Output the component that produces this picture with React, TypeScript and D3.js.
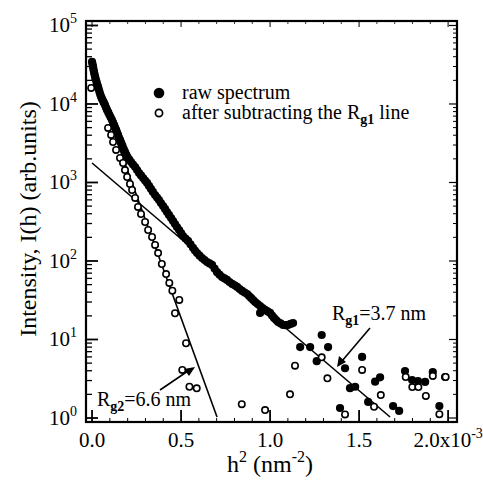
import React from 'react';
import * as d3 from 'd3';

const W = 483;
const H = 485;
const margin = { top: 21, right: 26, bottom: 63, left: 86 };

// h^2 in units of 1e-3 nm^-2, intensity in arb. units (read along the dense band, then the scatter)
const rawH2 = [
  0.0, 0.003, 0.006, 0.008, 0.011, 0.014, 0.017, 0.021, 0.025, 0.029, 0.034, 0.038,
  0.042, 0.046, 0.051, 0.056, 0.062, 0.067, 0.073, 0.078, 0.084, 0.091, 0.098, 0.105,
  0.112, 0.118, 0.124, 0.129, 0.135, 0.14, 0.146, 0.151, 0.157, 0.164, 0.171, 0.178,
  0.185, 0.192, 0.199, 0.209, 0.219, 0.23, 0.242, 0.253, 0.264, 0.275, 0.287, 0.298,
  0.309, 0.32, 0.331, 0.342, 0.354, 0.365, 0.376, 0.387, 0.399, 0.41, 0.421, 0.432,
  0.444, 0.455, 0.466, 0.477, 0.489, 0.5, 0.511, 0.525, 0.539, 0.553, 0.567, 0.578,
  0.59, 0.604, 0.618, 0.632, 0.646, 0.66, 0.674, 0.688, 0.702, 0.716, 0.73, 0.744,
  0.758, 0.772, 0.787, 0.801, 0.815, 0.829, 0.843, 0.857, 0.871, 0.882, 0.893, 0.905,
  0.916, 0.93, 0.944, 0.944, 0.958, 0.972, 0.986, 1.0, 1.011, 1.022, 1.034, 1.045,
  1.059, 1.073, 1.087, 1.101, 1.115, 1.129,
  1.169, 1.225, 1.29, 1.326, 1.262, 1.421, 1.517, 1.449, 1.478, 1.551, 1.59, 1.618,
  1.691, 1.725, 1.393, 1.758, 1.798, 1.831, 1.871, 1.914, 1.983, 1.951,
];
const rawI = [
  34300, 32000, 29600, 27500, 25600, 23800, 22100, 20600, 19100, 17700, 16500, 15300,
  14200, 13200, 12300, 11600, 10900, 10300, 9700, 9000, 8400, 7800, 7240, 6720,
  6250, 5800, 5400, 5020, 4670, 4340, 4030, 3740, 3480, 3190, 2920, 2670,
  2450, 2270, 2110, 1960, 1820, 1690, 1570, 1440, 1320, 1230, 1140, 1060,
  986, 903, 827, 757, 693, 644, 598, 548, 502, 460, 421, 386,
  353, 323, 296, 271, 248, 227, 208, 193, 180, 163, 147, 136,
  126, 117, 109, 103, 97, 93, 89, 80, 72, 67, 62.5, 60,
  57.3, 54, 51, 49, 46.7, 44, 41.5, 39.7, 38, 35.8, 33.8, 31.8,
  30, 28.3, 26.7, 21.8, 25.2, 23.8, 22.8, 21.8, 20.2, 18.8, 17.7, 16.7,
  16, 15.3, 15.2, 15.3, 15.8, 16.2,
  8.0, 8.0, 11.4, 8.0, 5.3, 4.3, 6.0, 2.4, 2.5, 1.6, 2.9, 3.3,
  1.42, 1.23, 1.34, 3.97, 3.05, 2.96, 2.88, 3.85, 3.33, 1.42,
];

const subH2 = [
  -0.005, 0.09, 0.107, 0.118, 0.135, 0.157, 0.174, 0.185, 0.197, 0.213, 0.225, 0.242,
  0.258, 0.275, 0.298, 0.315, 0.337, 0.354, 0.371, 0.392, 0.416, 0.434, 0.451, 0.49,
  0.466, 0.528, 0.507, 0.547, 0.588, 0.841, 0.972, 1.112, 1.14, 1.29, 1.322, 1.421,
  1.517, 1.584, 1.622, 1.762, 1.799, 1.833, 1.875, 1.914, 1.986, 1.951,
];
const subI = [
  16000, 4950, 4030, 3280, 2600, 2050, 1770, 1440, 1175, 957, 802, 635,
  488, 397, 314, 248, 202, 160, 126, 91.6, 68.2, 52.5, 41.9, 31.9,
  21.6, 8.95, 4.09, 2.5, 2.39, 1.5, 1.26, 2.0, 4.64, 5.93, 3.2, 1.11,
  4.09, 1.39, 1.96, 3.33, 2.48, 2.48, 1.91, 3.43, 3.33, 1.12,
];

// Guinier fit lines, endpoints [h2, I]
const rg1Line = [[0, 1770], [1.674, 1.03]];
const rg2Line = [[0, 25000], [0.702, 1.03]];

const xTicks = [0, 0.5, 1.0, 1.5, 2.0];
const xTickLabels = ['0.0', '0.5', '1.0', '1.5', '2.0'];
const yDecades = [0, 1, 2, 3, 4, 5];

const FONT = 'Liberation Serif, DejaVu Serif, serif';

export default function App() {
  const innerW = W - margin.left - margin.right;
  const innerH = H - margin.top - margin.bottom;

  const x = d3.scaleLinear().domain([-0.034, 2.05]).range([0, innerW]);
  const y = d3.scaleLog().domain([Math.pow(10, -0.051), Math.pow(10, 5.057)]).range([innerH, 0]);

  const line = d3.line<number[]>().x((d) => x(d[0])).y((d) => y(d[1]));

  const minorY: number[] = [];
  yDecades.slice(0, -1).forEach((e) => {
    for (let k = 2; k <= 9; k++) minorY.push(k * Math.pow(10, e));
  });
  const minorX = d3.range(0, 21).map((i) => i * 0.1).filter((v) => Math.abs(v * 2 - Math.round(v * 2)) > 1e-6);

  const txt = { fontFamily: FONT };

  return (
    <svg width={W} height={H} style={{ position: 'absolute', left: 0, top: 0, background: '#fff', fontFamily: FONT }}>
      <g transform={`translate(${margin.left},${margin.top})`}>
        {/* fit lines */}
        <path d={line(rg1Line) || ''} fill="none" stroke="#000" strokeWidth={1.6} />
        <path d={line(rg2Line) || ''} fill="none" stroke="#000" strokeWidth={1.6} />

        {/* raw spectrum */}
        {rawH2.map((v, i) => (
          <circle key={'r' + i} cx={x(v)} cy={y(rawI[i])} r={4.1} fill="#000" />
        ))}
        {/* after subtraction */}
        {subH2.map((v, i) => (
          <circle key={'s' + i} cx={x(v)} cy={y(subI[i])} r={3.2} fill="#fff" stroke="#000" strokeWidth={1.6} />
        ))}

        {/* y ticks */}
        {yDecades.map((e) => (
          <g key={'yt' + e}>
            <line x1={0} x2={12} y1={y(Math.pow(10, e))} y2={y(Math.pow(10, e))} stroke="#000" strokeWidth={1.8} />
            <line x1={innerW} x2={innerW - 8} y1={y(Math.pow(10, e))} y2={y(Math.pow(10, e))} stroke="#000" strokeWidth={1.2} />
            <text style={txt} x={-9} y={y(Math.pow(10, e)) + 7} textAnchor="end" fontSize={21}>
              10<tspan dy={-9} fontSize={14}>{e}</tspan>
            </text>
          </g>
        ))}
        {minorY.map((v, i) => (
          <g key={'ym' + i}>
            <line x1={0} x2={6} y1={y(v)} y2={y(v)} stroke="#000" strokeWidth={1.3} />
            <line x1={innerW} x2={innerW - 4} y1={y(v)} y2={y(v)} stroke="#000" strokeWidth={1} />
          </g>
        ))}

        {/* x ticks */}
        {xTicks.map((v, i) => (
          <g key={'xt' + i}>
            <line x1={x(v)} x2={x(v)} y1={innerH} y2={innerH - 12} stroke="#000" strokeWidth={1.8} />
            <line x1={x(v)} x2={x(v)} y1={0} y2={6} stroke="#000" strokeWidth={1} />
            <text style={txt} x={x(v)} y={innerH + 25} textAnchor="middle" fontSize={21}>
              {xTickLabels[i]}
              {i === xTicks.length - 1 ? (
                <>
                  x10<tspan dy={-9} fontSize={14}>-3</tspan>
                </>
              ) : null}
            </text>
          </g>
        ))}
        {minorX.map((v, i) => (
          <g key={'xm' + i}>
            <line x1={x(v)} x2={x(v)} y1={innerH} y2={innerH - 4} stroke="#000" strokeWidth={1} />
            <line x1={x(v)} x2={x(v)} y1={0} y2={3} stroke="#000" strokeWidth={0.8} />
          </g>
        ))}

        {/* frame */}
        <rect x={0} y={0} width={innerW} height={innerH} fill="none" stroke="#000" strokeWidth={2.2} />
      </g>

      {/* legend */}
      <circle cx={159} cy={93} r={5.3} fill="#000" />
      <text style={txt} x={182} y={99} fontSize={20}>raw spectrum</text>
      <circle cx={159} cy={113} r={3.6} fill="#fff" stroke="#000" strokeWidth={1.7} />
      <text style={txt} x={182} y={119} fontSize={20}>
        after subtracting the R<tspan dy={5} fontSize={14} fontWeight="bold">g1</tspan>
        <tspan dy={-5}> line</tspan>
      </text>

      {/* annotations */}
      <text style={txt} x={97} y={406} fontSize={20}>
        R<tspan dy={5} fontSize={14} fontWeight="bold">g2</tspan><tspan dy={-5}>=6.6 nm</tspan>
      </text>
      <line x1={160} y1={390} x2={188} y2={371} stroke="#000" strokeWidth={1.6} />
      <path d="M195,367 L184,369 L189,376 Z" fill="#000" />

      <text style={txt} x={332} y={320} fontSize={20}>
        R<tspan dy={5} fontSize={14} fontWeight="bold">g1</tspan><tspan dy={-5}>=3.7 nm</tspan>
      </text>
      <line x1={370} y1={328} x2={342} y2={361} stroke="#000" strokeWidth={1.6} />
      <path d="M337,367 L339,356 L346,362 Z" fill="#000" />

      {/* axis titles */}
      <text style={txt} x={270} y={472} textAnchor="middle" fontSize={24}>
        h<tspan dy={-10} fontSize={16}>2</tspan>
        <tspan dy={10}> (nm</tspan>
        <tspan dy={-10} fontSize={16}>-2</tspan>
        <tspan dy={10}>)</tspan>
      </text>
      <text style={txt} transform="translate(36,219) rotate(-90)" textAnchor="middle" fontSize={24}>
        Intensity, I(h) (arb.units)
      </text>
    </svg>
  );
}
